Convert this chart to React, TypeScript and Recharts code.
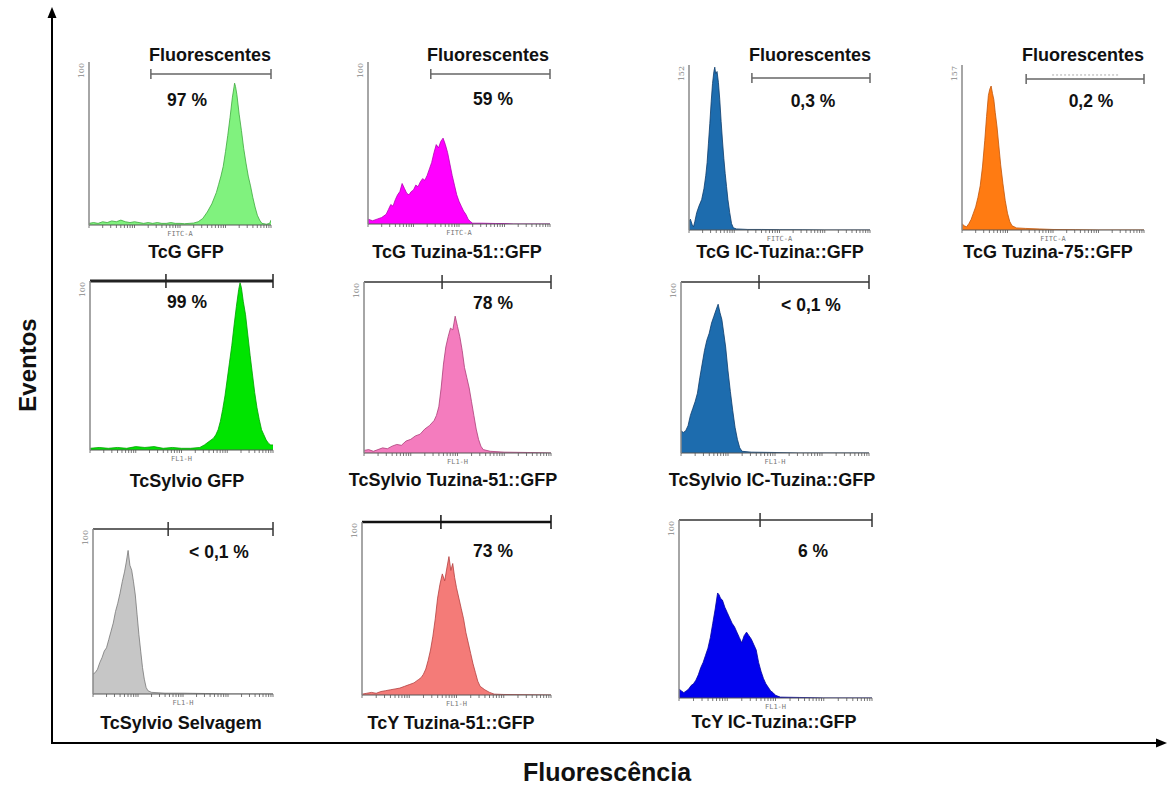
import React from 'react';
import { AreaChart, Area, XAxis, YAxis, ReferenceLine } from 'recharts';

// ---------- data ----------
const panelTitles = [
  'TcG GFP', 'TcG Tuzina-51::GFP', 'TcG IC-Tuzina::GFP', 'TcG Tuzina-75::GFP',
  'TcSylvio GFP', 'TcSylvio Tuzina-51::GFP', 'TcSylvio IC-Tuzina::GFP',
  'TcSylvio Selvagem', 'TcY Tuzina-51::GFP', 'TcY IC-Tuzina::GFP',
];
const percentLabels = ['97 %', '59 %', '0,3 %', '0,2 %', '99 %', '78 %', '< 0,1 %', '< 0,1 %', '73 %', '6 %'];
const yMaxLabels = [100, 100, 152, 157, 100, 100, 100, 100, 100, 100];
const channelLabels = ['FITC-A', 'FITC-A', 'FITC-A', 'FITC-A', 'FL1-H', 'FL1-H', 'FL1-H', 'FL1-H', 'FL1-H', 'FL1-H'];
const gateTitle = 'Fluorescentes';
const gateStarts = [1.36, 1.38, 1.39, 1.41, 0, 0, 0, 0, 0, 0];
const gateMarks = [null, null, null, null, 1.66, 1.67, 1.66, 1.67, 1.67, 1.68];
const gateLevels = [92.6, 92.6, 140, 143.7, 100, 100, 100, 100, 100, 100];
const decades = [0, 1, 2, 3];
const minorMultipliers = [1, 2, 3, 4, 5, 6, 7, 8, 9];
const yAxisTitle = 'Eventos';
const xAxisTitle = 'Fluorescência';

const tcgGfp = [[0,1],[0.1,1.5],[0.2,1],[0.3,2],[0.4,1.5],[0.5,2.5],[0.6,2],[0.7,3],[0.8,2],[0.9,1.5],[1.0,2],[1.1,1.5],[1.2,1],[1.3,1.5],[1.4,1],[1.5,1.5],[1.6,1],[1.7,1],[1.8,1.5],[1.9,1],[2.0,1],[2.1,0.8],[2.2,1],[2.3,1.2],[2.4,2],[2.5,4],[2.6,8],[2.7,13],[2.8,20],[2.85,25],[2.9,30],[2.95,36],[3.0,45],[3.05,55],[3.1,66],[3.15,78],[3.2,87],[3.22,85],[3.25,80],[3.3,68],[3.35,58],[3.4,47],[3.45,38],[3.5,30],[3.55,24],[3.6,17],[3.65,11],[3.7,6],[3.75,3],[3.8,1],[3.9,0.5],[3.97,1],[4.0,3]];
const tcgTuz51 = [[0,3],[0.1,2],[0.2,3],[0.3,4],[0.4,6],[0.45,9],[0.5,12],[0.55,11],[0.6,15],[0.65,18],[0.7,20],[0.75,25],[0.8,22],[0.85,19],[0.9,18],[0.95,20],[1.0,21],[1.05,24],[1.1,23],[1.15,26],[1.2,28],[1.25,27],[1.3,30],[1.35,34],[1.4,38],[1.45,44],[1.5,49],[1.55,47],[1.6,51],[1.65,53],[1.7,49],[1.75,44],[1.8,37],[1.85,30],[1.9,24],[1.95,18],[2.0,14],[2.05,11],[2.1,8],[2.15,6],[2.2,3],[2.25,1.5],[2.3,0.5],[2.5,0.5],[2.8,0.3],[3.0,0.3],[3.2,0],[4.0,0]];
const tcgIcTuz = [[0,8],[0.03,10],[0.07,5],[0.1,3],[0.13,8],[0.17,16],[0.22,22],[0.28,28],[0.33,38],[0.37,50],[0.4,62],[0.43,80],[0.46,98],[0.49,118],[0.52,135],[0.55,146],[0.57,150],[0.59,144],[0.62,146],[0.65,136],[0.68,120],[0.71,100],[0.74,82],[0.77,66],[0.8,52],[0.83,40],[0.86,28],[0.9,16],[0.94,6],[0.98,2],[1.05,1],[1.3,0.5],[1.6,0.5],[2.0,0.3],[2.5,0.2],[3.0,0],[4.0,0]];
const tcgTuz75 = [[0,6],[0.05,4],[0.1,3],[0.15,6],[0.2,10],[0.25,16],[0.3,22],[0.35,31],[0.4,42],[0.45,60],[0.5,85],[0.54,108],[0.58,128],[0.61,134],[0.64,137],[0.67,130],[0.7,124],[0.73,112],[0.77,98],[0.81,80],[0.85,62],[0.9,44],[0.95,28],[1.0,16],[1.05,8],[1.1,4],[1.2,2],[1.4,1.5],[1.7,1],[2.0,0.5],[2.5,0.3],[3.0,0],[4.0,0]];
const sylGfp = [[0,1],[0.2,1.5],[0.4,1],[0.6,1.5],[0.8,1],[1.0,2],[1.2,1.5],[1.4,2],[1.6,1],[1.8,1.5],[2.0,1],[2.2,1],[2.4,1.5],[2.5,3],[2.6,5],[2.7,7],[2.75,9],[2.8,12],[2.85,17],[2.9,24],[2.95,32],[3.0,42],[3.05,52],[3.1,62],[3.15,74],[3.2,85],[3.25,95],[3.28,99],[3.31,96],[3.35,88],[3.4,80],[3.45,68],[3.5,56],[3.55,45],[3.6,34],[3.65,25],[3.7,18],[3.75,12],[3.8,9],[3.85,6],[3.9,4],[3.95,3],[4.0,3]];
const sylTuz51 = [[0,1.5],[0.1,2],[0.2,1],[0.3,2],[0.4,3],[0.5,2.5],[0.6,4],[0.7,5],[0.8,4.5],[0.9,7],[1.0,8],[1.1,10],[1.2,11],[1.3,14],[1.4,16],[1.5,19],[1.55,22],[1.6,27],[1.65,38],[1.7,52],[1.75,62],[1.8,68],[1.85,73],[1.9,72],[1.95,80],[2.0,74],[2.05,68],[2.1,60],[2.15,50],[2.2,44],[2.25,38],[2.3,30],[2.35,22],[2.4,14],[2.45,8],[2.5,4],[2.55,2],[2.7,1],[3.0,0.5],[3.5,0.3],[4.0,0]];
const sylIcTuz = [[0,13],[0.05,12],[0.1,13],[0.15,16],[0.2,22],[0.25,26],[0.3,30],[0.35,35],[0.4,44],[0.45,52],[0.5,60],[0.55,66],[0.6,70],[0.65,76],[0.7,80],[0.75,84],[0.79,87],[0.83,82],[0.87,78],[0.91,70],[0.95,62],[1.0,48],[1.05,36],[1.1,25],[1.15,15],[1.2,8],[1.25,3],[1.3,1],[1.5,0.5],[2.0,0.3],[2.5,0],[4.0,0]];
const sylWild = [[0,12],[0.05,13],[0.1,15],[0.15,19],[0.2,22],[0.25,26],[0.3,28],[0.35,33],[0.4,38],[0.45,43],[0.5,50],[0.55,55],[0.6,61],[0.65,68],[0.7,74],[0.74,80],[0.78,87],[0.82,78],[0.86,75],[0.9,68],[0.94,60],[0.98,48],[1.02,36],[1.06,26],[1.1,16],[1.14,9],[1.18,4],[1.22,2],[1.3,1],[1.6,0.5],[2.0,0.5],[2.5,0.3],[3.0,0],[4.0,0]];
const tcyTuz51 = [[0,0.5],[0.1,1],[0.2,1.5],[0.3,1],[0.4,2],[0.5,2.5],[0.6,3],[0.7,3.5],[0.8,4],[0.9,5],[1.0,6],[1.1,7],[1.2,9],[1.25,10],[1.3,12],[1.35,15],[1.4,20],[1.45,26],[1.5,34],[1.55,44],[1.6,56],[1.65,64],[1.7,70],[1.75,66],[1.8,74],[1.84,80],[1.88,72],[1.92,76],[1.96,68],[2.0,62],[2.05,56],[2.1,50],[2.15,44],[2.2,36],[2.25,30],[2.3,24],[2.35,18],[2.4,13],[2.45,8],[2.5,5],[2.6,3],[2.7,1.5],[2.8,0.5],[3.0,0.3],[4.0,0]];
const tcyIcTuz = [[0,5],[0.05,4],[0.1,3],[0.15,4],[0.2,5],[0.25,7],[0.3,8],[0.35,10],[0.4,13],[0.45,17],[0.5,20],[0.55,24],[0.6,28],[0.65,34],[0.7,42],[0.75,50],[0.8,59],[0.83,58],[0.86,56],[0.9,55],[0.95,51],[1.0,48],[1.05,45],[1.1,42],[1.15,40],[1.2,37],[1.25,34],[1.3,31],[1.35,35],[1.4,37],[1.45,35],[1.5,33],[1.55,30],[1.6,27],[1.65,20],[1.7,15],[1.75,11],[1.8,8],[1.85,6],[1.9,4],[1.95,3],[2.0,1.5],[2.1,0.5],[2.5,0.3],[3.0,0],[4.0,0]];

const histograms = [tcgGfp, tcgTuz51, tcgIcTuz, tcgTuz75, sylGfp, sylTuz51, sylIcTuz, sylWild, tcyTuz51, tcyIcTuz];

// ---------- layout & style ----------
const boxes = [
  { x: 89, y: 62, w: 182, h: 163 },
  { x: 368, y: 62, w: 182, h: 162 },
  { x: 689, y: 65, w: 181, h: 165 },
  { x: 962, y: 65, w: 182, h: 165 },
  { x: 90, y: 281, w: 183, h: 169 },
  { x: 364, y: 282, w: 187, h: 171 },
  { x: 681, y: 282, w: 188, h: 171 },
  { x: 93, y: 529, w: 180, h: 165 },
  { x: 362, y: 522, w: 189, h: 173 },
  { x: 679, y: 520, w: 193, h: 178 },
];
const titlePos = [[186, 252], [457, 252], [780, 252], [1048, 252], [187, 481], [453, 480], [772, 480], [181, 723], [451, 723], [774, 722]];
const percentPos = [[187, 101], [493, 100], [813, 102], [1091, 102], [187, 303], [493, 304], [811, 306], [219, 553], [493, 552], [813, 552]];
const gateTitlePos = [[210, 55], [488, 55], [810, 55], [1083, 55]];
const fills = ['#80f27e', '#ff00ff', '#1d6cae', '#ff7b12', '#00e400', '#f47cbe', '#1d6cae', '#c6c6c6', '#f47b78', '#0000ee'];
const strokes = ['#3da83d', '#b400b4', '#0c3c6c', '#c2560a', '#00a000', '#ac3e78', '#0c3c6c', '#777777', '#b44040', '#0000a0'];
const gateColors = ['#666', '#666', '#666', '#666', '#222', '#333', '#333', '#333', '#111', '#333'];
const gateWidths = [1.5, 1.5, 1.5, 1.5, 3, 1.6, 1.6, 1.6, 2.6, 1.6];

const logTicks = decades.flatMap((d) => minorMultipliers.map((m) => d + Math.log10(m))).concat([4]);

const textStyle: React.CSSProperties = {
  position: 'absolute',
  transform: 'translate(-50%, -50%)',
  whiteSpace: 'nowrap',
  fontFamily: '"Liberation Sans", Arial, sans-serif',
  fontWeight: 'bold',
  fontSize: 18,
  lineHeight: 1,
  color: '#111',
};

const EmptyTick = () => <g />;

function Panel({ i }: { i: number }) {
  const b = boxes[i];
  const mL = 16, mT = 10, mR = 10, xH = 14, mB = 2;
  const W = b.w + mL + mR;
  const H = b.h + mT + xH + mB;
  const ymax = yMaxLabels[i];
  const data = histograms[i].map(([x, y]) => ({ x, y }));
  const pxY = ymax / b.h; // data units per pixel
  const level = gateLevels[i];
  const capUp = (i < 4 ? 5 : 7) * pxY;
  const start = gateStarts[i];
  const mark = gateMarks[i];
  const gc = gateColors[i];
  const gw = gateWidths[i];
  const renderYTick = (props: any) => (
    <text
      transform={`translate(${mL - 5},${props.y + 1}) rotate(-90)`}
      textAnchor="end"
      fontSize={8}
      fill="#888"
      fontFamily='"DejaVu Serif", serif'
    >
      {String(ymax)}
    </text>
  );
  const renderChannel = (props: any) => {
    const vb = props.viewBox || {};
    return (
      <text
        x={vb.x + vb.width / 2}
        y={vb.y + 11}
        textAnchor="middle"
        fontSize={7}
        fill="#777"
        fontFamily='"DejaVu Sans Mono", monospace'
      >
        {channelLabels[i]}
      </text>
    );
  };
  return (
    <div style={{ position: 'absolute', left: b.x - mL, top: b.y - mT }}>
      <AreaChart width={W} height={H} data={data} margin={{ top: mT, right: mR, bottom: mB, left: 0 }}>
        <XAxis
          type="number"
          dataKey="x"
          domain={[0, 4]}
          ticks={logTicks}
          interval={0}
          tick={EmptyTick}
          tickSize={3}
          height={xH}
          allowDataOverflow
          axisLine={{ stroke: '#555', strokeWidth: 1 }}
          tickLine={{ stroke: '#555', strokeWidth: 0.8 }}
          label={renderChannel}
        />
        <YAxis
          type="number"
          domain={[0, ymax]}
          ticks={[ymax]}
          width={mL}
          allowDataOverflow
          tickLine={false}
          axisLine={{ stroke: '#888', strokeWidth: 1.5 }}
          tick={renderYTick}
        />
        <Area
          type="linear"
          dataKey="y"
          stroke={strokes[i]}
          strokeWidth={0.8}
          fill={fills[i]}
          fillOpacity={1}
          isAnimationActive={false}
          dot={false}
          activeDot={false}
        />
        <ReferenceLine segment={[{ x: start, y: level }, { x: 4, y: level }]} stroke={gc} strokeWidth={gw} ifOverflow="visible" />
        <ReferenceLine segment={[{ x: 4, y: level - capUp }, { x: 4, y: level + capUp }]} stroke={gc} strokeWidth={1.5} ifOverflow="visible" />
        {i < 4 && (
          <ReferenceLine segment={[{ x: start, y: level - capUp }, { x: start, y: level + capUp }]} stroke={gc} strokeWidth={1.5} ifOverflow="visible" />
        )}
        {mark !== null && (
          <ReferenceLine segment={[{ x: mark, y: level - capUp }, { x: mark, y: level + capUp }]} stroke={gc} strokeWidth={1.5} ifOverflow="visible" />
        )}
        {i === 3 && (
          <ReferenceLine segment={[{ x: 1.98, y: level + 4 * pxY }, { x: 3.45, y: level + 4 * pxY }]} stroke="#aaa" strokeWidth={1} strokeDasharray="2 2" ifOverflow="visible" />
        )}
      </AreaChart>
    </div>
  );
}

export default function App() {
  return (
    <div style={{ position: 'absolute', left: 0, top: 0, width: 1168, height: 787, background: '#fff', overflow: 'hidden' }}>
      <svg width={1168} height={787} style={{ position: 'absolute', left: 0, top: 0 }}>
        <line x1={52} y1={743} x2={52} y2={16} stroke="#000" strokeWidth={2} />
        <polygon points="52,7 47.5,18 56.5,18" fill="#000" />
        <line x1={51} y1={743} x2={1158} y2={743} stroke="#000" strokeWidth={2} />
        <polygon points="1167,743 1156,738.5 1156,747.5" fill="#000" />
      </svg>
      {boxes.map((_, i) => (
        <Panel key={i} i={i} />
      ))}
      {panelTitles.map((t, i) => (
        <div key={'t' + i} style={{ ...textStyle, left: titlePos[i][0], top: titlePos[i][1] }}>{t}</div>
      ))}
      {percentLabels.map((t, i) => (
        <div key={'p' + i} style={{ ...textStyle, fontSize: 17.5, left: percentPos[i][0], top: percentPos[i][1] }}>{t}</div>
      ))}
      {gateTitlePos.map((p, i) => (
        <div key={'g' + i} style={{ ...textStyle, left: p[0], top: p[1] }}>{gateTitle}</div>
      ))}
      <div style={{ ...textStyle, fontSize: 24, left: 28, top: 365, transform: 'translate(-50%, -50%) rotate(-90deg)' }}>{yAxisTitle}</div>
      <div style={{ ...textStyle, fontSize: 25, left: 607, top: 772 }}>{xAxisTitle}</div>
    </div>
  );
}
